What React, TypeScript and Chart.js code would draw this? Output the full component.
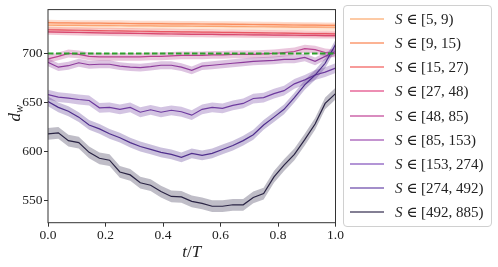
import React, { useEffect, useRef } from 'react';
import { Chart, registerables } from 'chart.js';

Chart.register(...registerables);

// ---- data ----
const tValues = [0.000, 0.036, 0.071, 0.107, 0.143, 0.179, 0.214, 0.250, 0.286, 0.321, 0.357, 0.393, 0.429, 0.464, 0.500,
  0.536, 0.571, 0.607, 0.643, 0.679, 0.714, 0.750, 0.786, 0.821, 0.857, 0.893, 0.929, 0.964, 1.000];

const seriesRanges = ['[5, 9)', '[9, 15)', '[15, 27)', '[27, 48)', '[48, 85)', '[85, 153)', '[153, 274)', '[274, 492)', '[492, 885)'];

const s5to9 = [728.8, 728.7, 728.7, 728.6, 728.5, 728.5, 728.4, 728.3, 728.2, 728.2, 728.1, 728.0, 727.9, 727.9, 727.8,
  727.7, 727.6, 727.6, 727.5, 727.4, 727.3, 727.3, 727.2, 727.1, 727.0, 727.0, 726.9, 726.8, 726.8];
const s9to15 = [731.5, 731.3, 731.2, 731.0, 731.0, 730.9, 730.8, 730.8, 730.6, 730.5, 730.5, 730.4, 730.3, 730.2, 730.2,
  730.1, 730.0, 729.9, 729.8, 729.7, 729.6, 729.5, 729.4, 729.2, 729.1, 729.0, 728.9, 728.7, 728.6];
const s15to27 = [724.2, 724.0, 723.8, 723.7, 723.5, 723.3, 723.2, 723.0, 722.9, 722.7, 722.6, 722.4, 722.3, 722.1, 722.0,
  721.9, 721.8, 721.6, 721.5, 721.3, 721.2, 721.0, 720.9, 720.7, 720.6, 720.4, 720.3, 720.2, 720.0];
const s27to48 = [722.0, 721.8, 721.6, 721.4, 721.2, 721.0, 720.8, 720.7, 720.5, 720.4, 720.2, 720.0, 719.9, 719.8, 719.6,
  719.5, 719.4, 719.3, 719.2, 719.1, 719.0, 718.9, 718.8, 718.7, 718.6, 718.5, 718.4, 718.3, 718.2];
const s48to85 = [694.5, 697, 700, 699, 697, 696.5, 696.5, 696.5, 696.5, 696.5, 697, 697, 697.5, 698, 698,
  698, 698.5, 698.5, 699, 699, 699, 699.5, 700, 701, 702, 705, 704, 701, 700];
const s85to153 = [691, 686, 687.5, 690.5, 688.5, 689, 689, 687, 686, 685.5, 686.5, 688, 688, 686, 682.7,
  687, 688, 689, 690, 691, 692, 692.5, 693, 694, 694, 696, 692, 697, 702];
const s153to274 = [658, 655.5, 654.5, 653, 652, 644.5, 645, 643, 645, 640, 642.5, 640, 642, 640.5, 637,
  643, 645, 644, 647, 649, 654, 655, 659, 662, 669, 673, 678, 681, 685];
const s274to492 = [651, 645, 641, 635, 627, 623, 618, 614, 609, 605, 602, 599, 597, 594, 598,
  596, 598, 602, 606, 611, 617, 627, 635, 643, 655, 668, 678, 690, 709];
const s492to885 = [618, 619, 611, 609, 599, 593, 591, 579, 576, 568, 565.5, 559, 554, 553.5, 549,
  547, 544, 544, 545.5, 545.5, 553, 557, 574, 586, 597, 612, 628, 649, 659];

const seriesValues = [s5to9, s9to15, s15to27, s27to48, s48to85, s85to153, s153to274, s274to492, s492to885];
const bandHalfWidth = [3.5, 3, 3, 3, 4, 4, 5, 5, 6];
const seriesColors = ['#fdae78', '#f98c5e', '#f0605e', '#d8476f', '#b8418f', '#8d3c9c', '#6e3b9f', '#4f2e8c', '#2a2444'];
const legendColors = ['#fdb887', '#fb9a70', '#f47a78', '#e7689a', '#cc66aa', '#b070c0', '#9a72c8', '#8468b8', '#5a5470'];

const referenceT = [0, 1];
const referenceLevel = [700, 700];

const xTicks = [0, 0.2, 0.4, 0.6, 0.8, 1.0];
const yTicks = [550, 600, 650, 700];
const yMin = 527.2;
const yMax = 744.8;

const FONT = '"Liberation Serif", "DejaVu Serif", serif';

function hexToRgba(hex: string, a: number) {
  const r = parseInt(hex.slice(1, 3), 16);
  const g = parseInt(hex.slice(3, 5), 16);
  const b = parseInt(hex.slice(5, 7), 16);
  return `rgba(${r},${g},${b},${a})`;
}

const framePlugin = {
  id: 'frameAndTitles',
  afterDraw(chart: any) {
    const { ctx, chartArea } = chart;
    ctx.save();
    ctx.strokeStyle = '#333';
    ctx.lineWidth = 1;
    ctx.strokeRect(chartArea.left, chartArea.top, chartArea.right - chartArea.left, chartArea.bottom - chartArea.top);

    ctx.fillStyle = '#222';
    ctx.textBaseline = 'alphabetic';
    const cx = (chartArea.left + chartArea.right) / 2;
    const parts: [string, string][] = [['t', 'italic'], ['/', 'normal'], ['T', 'italic']];
    let total = 0;
    const widths: number[] = [];
    for (const [s, st] of parts) {
      ctx.font = `${st} 17px ${FONT}`;
      const w = ctx.measureText(s).width;
      widths.push(w);
      total += w;
    }
    let x = cx - total / 2;
    parts.forEach(([s, st], i) => {
      ctx.font = `${st} 17px ${FONT}`;
      ctx.fillText(s, x, 257);
      x += widths[i];
    });

    ctx.font = `italic 17px ${FONT}`;
    const dW = ctx.measureText('d').width;
    ctx.font = `italic 12px ${FONT}`;
    const wW = ctx.measureText('w').width;
    const cy = (chartArea.top + chartArea.bottom) / 2 - 3;
    ctx.translate(20, cy + (dW + wW) / 2);
    ctx.rotate(-Math.PI / 2);
    ctx.font = `italic 17px ${FONT}`;
    ctx.fillText('d', 0, 0);
    ctx.font = `italic 12px ${FONT}`;
    ctx.fillText('w', dW, 2.5);
    ctx.restore();
  },
};

export default function App() {
  const canvasRef = useRef<HTMLCanvasElement | null>(null);

  useEffect(() => {
    const canvas = canvasRef.current;
    if (!canvas) return;
    const datasets: any[] = [];
    seriesValues.forEach((vals, k) => {
      const base = (8 - k) * 3 + 1;
      const color = seriesColors[k];
      datasets.push({
        label: 'upper' + k,
        data: vals.map((v, i) => ({ x: tValues[i], y: v + bandHalfWidth[k] })),
        borderWidth: 0,
        pointRadius: 0,
        fill: false,
        order: base + 2,
      });
      datasets.push({
        label: 'lower' + k,
        data: vals.map((v, i) => ({ x: tValues[i], y: v - bandHalfWidth[k] })),
        borderWidth: 0,
        pointRadius: 0,
        fill: '-1',
        backgroundColor: hexToRgba(color, 0.3),
        order: base + 1,
      });
      datasets.push({
        label: 'S ∈ ' + seriesRanges[k],
        data: vals.map((v, i) => ({ x: tValues[i], y: v })),
        borderColor: color,
        borderWidth: 1.2,
        pointRadius: 0,
        fill: false,
        order: base,
      });
    });
    datasets.push({
      label: 'reference',
      data: referenceLevel.map((v, i) => ({ x: referenceT[i], y: v })),
      borderColor: '#2ca02c',
      borderWidth: 2,
      borderDash: [5.5, 2.5],
      pointRadius: 0,
      fill: false,
      order: 0,
    });

    const chart = new Chart(canvas, {
      type: 'line',
      data: { datasets },
      options: {
        animation: false,
        responsive: false,
        devicePixelRatio: 1,
        layout: { padding: { left: 0, top: 9, right: 162.5, bottom: 0 } },
        plugins: { legend: { display: false }, tooltip: { enabled: false } },
        elements: { line: { tension: 0 } },
        scales: {
          x: {
            type: 'linear',
            min: 0,
            max: 1,
            afterBuildTicks: (scale: any) => { scale.ticks = xTicks.map((v) => ({ value: v })); },
            afterFit: (scale: any) => { scale.height = 44.3; },
            grid: { display: true, drawOnChartArea: false, drawTicks: true, tickLength: 4, color: '#333' },
            border: { display: false },
            ticks: {
              color: '#222',
              font: { family: FONT, size: 13.5 },
              padding: 1,
              maxRotation: 0,
              callback: (v: any) => Number(v).toFixed(1),
            },
          },
          y: {
            type: 'linear',
            min: yMin,
            max: yMax,
            afterBuildTicks: (scale: any) => { scale.ticks = yTicks.map((v) => ({ value: v })); },
            afterFit: (scale: any) => { scale.width = 48; },
            grid: { display: true, drawOnChartArea: false, drawTicks: true, tickLength: 4, color: '#333' },
            border: { display: false },
            ticks: {
              color: '#222',
              font: { family: FONT, size: 13.5 },
              padding: 1.5,
              callback: (v: any) => String(v),
            },
          },
        },
      },
      plugins: [framePlugin],
    });
    return () => chart.destroy();
  }, []);

  return (
    <div style={{ position: 'fixed', left: 0, top: 0, width: 498, height: 267, background: '#fff' }}>
      <canvas ref={canvasRef} width={498} height={267} style={{ position: 'absolute', left: 0, top: 0, width: 498, height: 267 }} />
      <div
        style={{
          position: 'absolute',
          left: 343,
          top: 5,
          width: 147,
          height: 220,
          border: '1px solid #d0d0d0',
          borderRadius: 4,
          background: 'rgba(255,255,255,0.8)',
          fontFamily: FONT,
          fontSize: 15,
          color: '#222',
        }}
      >
        {seriesRanges.map((r, k) => (
          <div key={r} style={{ position: 'absolute', left: 0, top: Math.round(13.3 + 24.05 * k - 12), height: 24, width: 147 }}>
            <svg width={36} height={4} style={{ position: 'absolute', left: 6, top: 10 }}>
              <line x1={0} y1={2} x2={34} y2={2} stroke={legendColors[k]} strokeWidth={1.5} />
            </svg>
            <div style={{ position: 'absolute', left: 51, top: 2, lineHeight: '20px', whiteSpace: 'nowrap' }}>
              <span style={{ fontStyle: 'italic' }}>S</span>
              {' ∈ ' + r}
            </div>
          </div>
        ))}
      </div>
    </div>
  );
}
